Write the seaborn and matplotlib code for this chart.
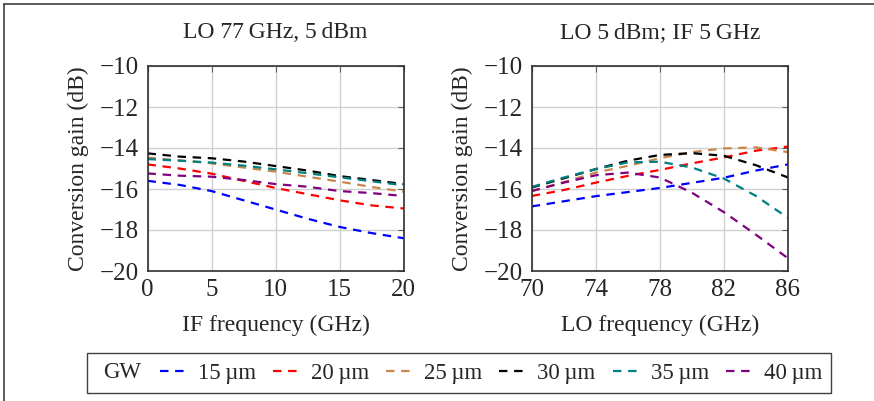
import numpy as np
import pandas as pd
import matplotlib
matplotlib.use("Agg")
import matplotlib.pyplot as plt
from matplotlib.lines import Line2D
from matplotlib.patches import Rectangle
import seaborn as sns

# Gate widths (legend labels) and colours
widths = ["15", "20", "25", "30", "35", "40"]
colors = ["#0000ff", "#ff0000", "#c8864b", "#000000", "#008080", "#800080"]

# Left panel: conversion gain vs IF frequency (LO 77 GHz, 5 dBm)
if_freq = [0, 2.5, 5, 7.5, 10, 12.5, 15, 17.5, 20]
gain_if = {
    "15": [-15.6, -15.8, -16.1, -16.55, -17.0, -17.45, -17.85, -18.15, -18.4],
    "20": [-14.8, -15.0, -15.25, -15.6, -15.95, -16.25, -16.55, -16.8, -16.95],
    "25": [-14.47, -14.6, -14.75, -14.95, -15.15, -15.4, -15.64, -15.9, -16.13],
    "30": [-14.26, -14.42, -14.5, -14.66, -14.88, -15.1, -15.37, -15.56, -15.76],
    "35": [-14.54, -14.62, -14.71, -14.86, -15.04, -15.23, -15.43, -15.62, -15.82],
    "40": [-15.24, -15.35, -15.4, -15.56, -15.76, -15.89, -16.1, -16.2, -16.34],
}

# Right panel: conversion gain vs LO frequency (LO 5 dBm, IF 5 GHz)
lo_freq = [70, 72, 74, 76, 78, 80, 82, 84, 86]
gain_lo = {
    "15": [-16.85, -16.6, -16.35, -16.15, -15.95, -15.7, -15.45, -15.1, -14.8],
    "20": [-16.34, -16.05, -15.69, -15.36, -15.07, -14.75, -14.46, -14.13, -13.93],
    "25": [-16.1, -15.66, -15.2, -14.87, -14.5, -14.2, -14.02, -13.97, -14.2],
    "30": [-15.93, -15.48, -15.03, -14.62, -14.34, -14.25, -14.38, -14.84, -15.44],
    "35": [-15.9, -15.44, -15.03, -14.7, -14.67, -14.95, -15.49, -16.34, -17.41],
    "40": [-16.1, -15.69, -15.33, -15.2, -15.44, -16.18, -17.13, -18.23, -19.38],
}

sns.set_style("white")
plt.rcParams["font.family"] = ["Liberation Serif", "DejaVu Serif"]

FS = 17
TICK_FS = 18
LEG_FS = 16.5
DASH = (3.8, 3.0)
LW = 1.6

fig = plt.figure(figsize=(8.74, 4.01), dpi=100)
ax1 = fig.add_axes([147.5 / 874, 130 / 401, 256 / 874, 205 / 401])
ax2 = fig.add_axes([531.7 / 874, 130 / 401, 256.3 / 874, 205 / 401])


def long_frame(x, data, xname):
    rows = []
    for w in widths:
        for xv, yv in zip(x, data[w]):
            rows.append({xname: xv, "gain": yv, "GW": w})
    return pd.DataFrame(rows)


def draw(ax, df, xname):
    for w, c in zip(widths, colors):
        sub = df[df["GW"] == w]
        sns.lineplot(data=sub, x=xname, y="gain", ax=ax, color=c, lw=LW,
                     dashes=False, legend=False)
        ax.lines[-1].set_dashes(DASH)


draw(ax1, long_frame(if_freq, gain_if, "if"), "if")
draw(ax2, long_frame(lo_freq, gain_lo, "lo"), "lo")

for ax in (ax1, ax2):
    ax.set_ylim(-20, -10)
    ax.set_yticks([-20, -18, -16, -14, -12, -10])
    ax.set_yticklabels(["\u221220", "\u221218", "\u221216", "\u221214", "\u221212", "\u221210"])
    ax.grid(True, color="#d0d0d0", lw=1.0)
    ax.set_axisbelow(True)
    for s in ax.spines.values():
        s.set_color("#303030")
        s.set_linewidth(1.2)
    ax.tick_params(direction="in", length=4, width=0.8, color="#606060",
                   top=True, right=True, labelsize=TICK_FS, pad=6)
    ax.set_ylabel("Conversion gain (dB)", fontsize=FS, labelpad=8)

ax1.set_xlim(0, 20)
ax1.set_xticks([0, 5, 10, 15, 20])
ax1.set_xlabel("IF frequency (GHz)", fontsize=FS, labelpad=10)
ax1.set_title("LO 77\u2009GHz, 5\u2009dBm", fontsize=FS, pad=20)

ax2.set_xlim(70, 86)
ax2.set_xticks([70, 74, 78, 82, 86])
ax2.set_xlabel("LO frequency (GHz)", fontsize=FS, labelpad=10)
ax2.set_title("LO 5\u2009dBm; IF 5\u2009GHz", fontsize=FS, pad=20)

# Legend row with a frame spanning "GW" and all entries
fig.add_artist(Rectangle((87 / 874, 8 / 401), 744 / 874, 40 / 401,
                         transform=fig.transFigure, fill=False,
                         edgecolor="#404040", lw=1.0))
fig.text(103 / 874, 28 / 401, "GW", fontsize=LEG_FS, va="center", ha="left")
handles = [Line2D([0], [0], color=c, lw=LW, dashes=DASH) for c in colors]
labels = [f"{w}\u2009\u00b5m" for w in widths]
fig.legend(handles, labels, loc="center", bbox_to_anchor=(491 / 874, 28 / 401),
           ncol=6, frameon=False, fontsize=LEG_FS, handlelength=1.1,
           handletextpad=0.55, columnspacing=0.75, borderpad=0.0)

# Partial outer frame (top and left edges)
fig.add_artist(Line2D([3.5 / 874, 3.5 / 874], [0, 1 - 3.5 / 401],
                      transform=fig.transFigure, color="#404040", lw=1.2))
fig.add_artist(Line2D([3.5 / 874, 1], [1 - 3.5 / 401, 1 - 3.5 / 401],
                      transform=fig.transFigure, color="#404040", lw=1.2))

fig.savefig("out.png", dpi=100)
